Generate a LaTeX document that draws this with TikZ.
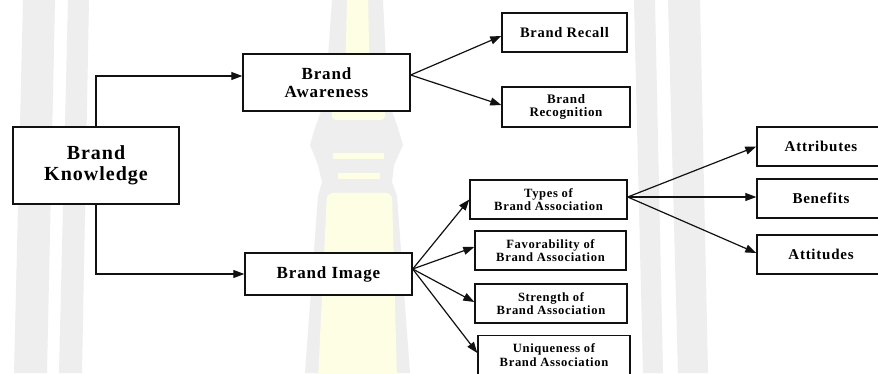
\documentclass[tikz,border=0pt]{standalone}
\usepackage{fontspec}
\setmainfont{Liberation Serif}
\usetikzlibrary{arrows.meta}
\definecolor{wmgray}{HTML}{EEEEEE}
\definecolor{wmyellow}{HTML}{FEFEE4}
\definecolor{ink}{HTML}{111111}
\tikzset{
  box/.style={draw=ink, line width=1.4pt, fill=white, align=center,
    inner sep=0pt, font=\bfseries},
  link/.style={draw=ink, line width=1.2pt,
    -{Triangle[length=11pt,width=8pt]}},
  fs/.style 2 args={font=\bfseries\fontsize{#1}{#2}\selectfont
    \addfontfeature{LetterSpace=5}},
}
\begin{document}
\begin{tikzpicture}[x=1pt,y=-1pt]
\useasboundingbox (0,0) rectangle (878,374);
\clip (0,0) rectangle (878,374);
\fill[white] (0,0) rectangle (878,374);

% faint background watermark: slanted bars and a pillar
\fill[wmgray] (23,0) -- (55,0) -- (47,373) -- (14,373) -- cycle;
\fill[wmgray] (68,0) -- (89,0) -- (82,373) -- (59,373) -- cycle;
\fill[wmgray] (634,0) -- (655,0) -- (663,373) -- (643,373) -- cycle;
\fill[wmgray] (668,0) -- (700,0) -- (708,373) -- (678,373) -- cycle;
\fill[wmgray] (332,0) -- (383,0) -- (388,100) -- (398,128) -- (403,145)
  -- (394,165) -- (392,182) -- (397,196) -- (410,373) -- (305,373)
  -- (318,196) -- (322,182) -- (318,165) -- (310,145) -- (315,128)
  -- (325,100) -- cycle;
\fill[wmyellow, rounded corners=4pt] (347,-5) -- (368,-5) -- (370,95)
  -- (385,108) -- (385,120) -- (332,120) -- (332,108) -- (345,95) -- cycle;
\fill[wmyellow] (333,153) rectangle (384,159);
\fill[wmyellow] (338,173) rectangle (380,179);
\fill[wmyellow, rounded corners=6pt] (318,380) -- (327,193) -- (392,193)
  -- (397,380) -- cycle;

% boxes
\node[box, fs={20}{21}, minimum width=166pt, minimum height=77pt]
  (know) at (96,165.5) {Brand\\Knowledge};
\node[box, fs={17}{18.5}, minimum width=167pt, minimum height=57pt]
  (aware) at (326.5,82.5) {Brand\\Awareness};
\node[box, fs={17}{18}, minimum width=167pt, minimum height=42pt]
  (image) at (328.5,274) {Brand Image};
\node[box, fs={14.5}{15}, minimum width=125pt, minimum height=39pt]
  (recall) at (564.5,32.5) {Brand Recall};
\node[box, fs={13}{13.3}, minimum width=128pt, minimum height=40pt]
  (recog) at (566,107) {Brand\\Recognition};
\node[box, fs={12.6}{13.3}, minimum width=157pt, minimum height=39pt]
  (types) at (548.5,199.5) {Types of\\Brand Association};
\node[box, fs={12.6}{13.3}, minimum width=151pt, minimum height=39pt]
  (fav) at (550.5,250.5) {Favorability of\\Brand Association};
\node[box, fs={12.6}{13.3}, minimum width=152pt, minimum height=39pt]
  (strength) at (551,303.5) {Strength of\\Brand Association};
\node[box, fs={12.6}{13.3}, minimum width=152pt, minimum height=39pt]
  (unique) at (554,355) {Uniqueness of\\Brand Association};
\node[box, fs={15}{16}, minimum width=128pt, minimum height=39pt]
  (attr) at (821,146.5) {Attributes};
\node[box, fs={15}{16}, minimum width=128pt, minimum height=39pt]
  (benef) at (821,198.5) {Benefits};
\node[box, fs={15}{16}, minimum width=128pt, minimum height=39pt]
  (attit) at (821,254.5) {Attitudes};

% fan-out points
\coordinate (awareout) at (aware.east |- 0,75);
\coordinate (imageout) at (image.east |- 0,269);
\coordinate (typesout) at (types.east |- 0,197);

% connectors
\draw[link] (know.north) |- (aware.west |- 0,76);
\draw[link] (know.south) |- (image.west);
\draw[link] (awareout) -- (recall.west |- 0,36);
\draw[link] (awareout) -- (recog.west |- 0,105);
\draw[link] (imageout) -- (types.west);
\draw[link] (imageout) -- (fav.west |- 0,247);
\draw[link] (imageout) -- (strength.west |- 0,302);
\draw[link] (imageout) -- (unique.west |- 0,353);
\draw[link] (typesout) -- (attr.west);
\draw[link] (typesout) -- (benef.west |- 0,197);
\draw[link] (typesout) -- (attit.west |- 0,253);
\end{tikzpicture}
\end{document}
